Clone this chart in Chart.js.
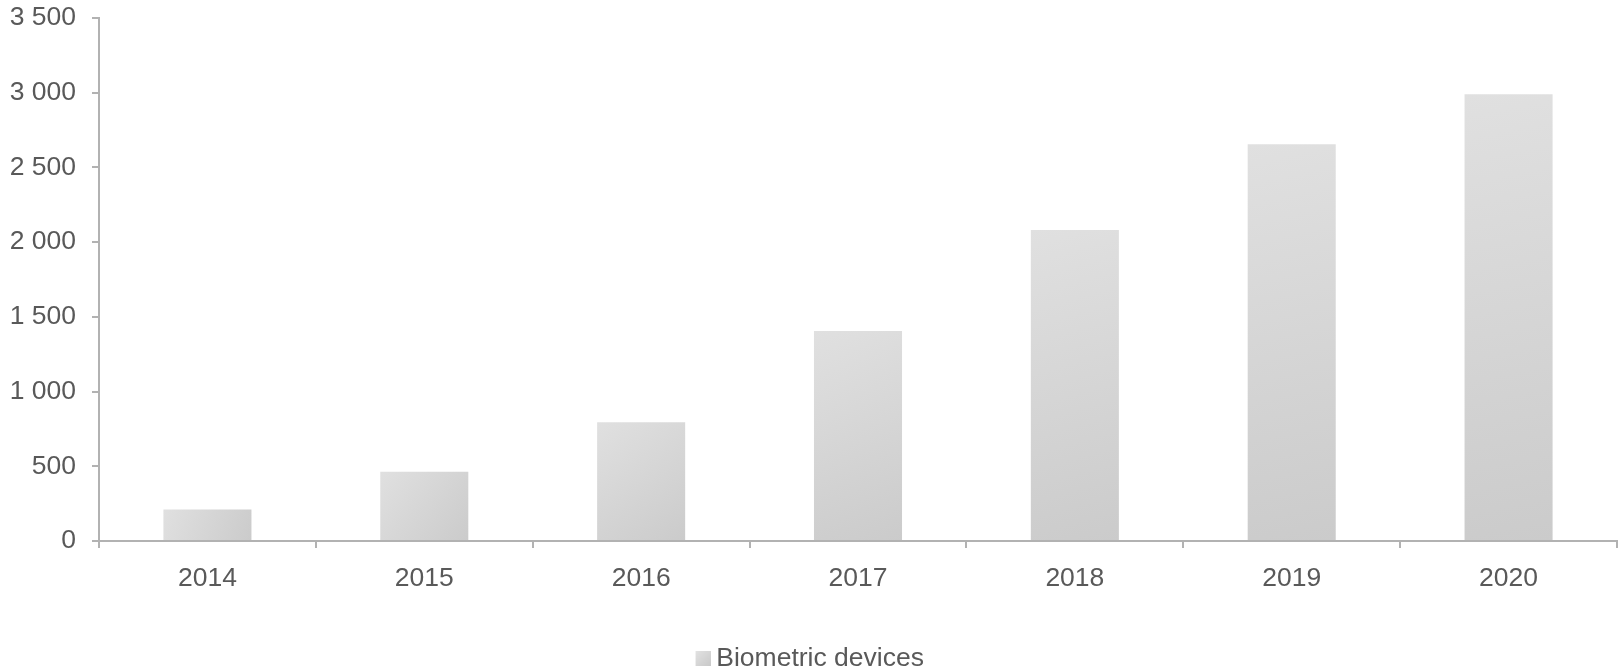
<!DOCTYPE html>
<html>
<head>
<meta charset="utf-8">
<script src="https://cdn.jsdelivr.net/npm/chart.js@4/dist/chart.umd.min.js"></script>
<style>
  html, body { margin: 0; padding: 0; background: #ffffff; }
  #wrap { width: 1619px; height: 669px; position: relative; }
</style>
</head>
<body>
<div id="wrap"><canvas id="c"></canvas></div>
<script>
const categories = ['2014', '2015', '2016', '2017', '2018', '2019', '2020'];
const seriesName = 'Biometric devices';
const biometricValues = [210, 464, 795, 1405, 2080, 2654, 2988];
const yTickLabels = ['0', '500', '1 000', '1 500', '2 000', '2 500', '3 000', '3 500'];

const TEXT = '#595959';
const AXIS = '#B2B2B2';
const FONT = "'Liberation Sans', Arial, sans-serif";
const FONT_SIZE = 26.5;
const BAR_PCT = 0.406;

// legend swatch (transparent left margin so the text gap matches)
const swatch = document.createElement('canvas');
swatch.width = 25; swatch.height = 15;
(function () {
  const g = swatch.getContext('2d');
  const gr = g.createLinearGradient(10, 0, 25, 15);
  gr.addColorStop(0, '#E2E2E2');
  gr.addColorStop(1, '#C9C9C9');
  g.fillStyle = gr;
  g.fillRect(10, 0, 15, 15);
})();

function barGradient(ctx) {
  const chart = ctx.chart;
  const i = ctx.dataIndex;
  if (!chart.chartArea || i === undefined || !chart.scales.x) return '#D6D6D6';
  const xs = chart.scales.x, ys = chart.scales.y;
  const cx = xs.getPixelForValue(i);
  const w = (xs.width / categories.length) * BAR_PCT;
  const top = ys.getPixelForValue(ctx.raw);
  const base = ys.getPixelForValue(0);
  const g = chart.ctx.createLinearGradient(cx - w / 2, top, cx + w / 2, base);
  g.addColorStop(0, '#E0E0E0');
  g.addColorStop(1, '#CBCBCB');
  return g;
}

new Chart(document.getElementById('c'), {
  type: 'bar',
  data: {
    labels: categories,
    datasets: [{
      label: seriesName,
      data: biometricValues,
      backgroundColor: barGradient,
      borderWidth: 0,
      categoryPercentage: 1,
      barPercentage: BAR_PCT
    }]
  },
  options: {
    responsive: true,
    maintainAspectRatio: false,
    animation: false,
    devicePixelRatio: 1,
    layout: { padding: { top: 0, right: 2, bottom: -13, left: 0 } },
    plugins: {
      tooltip: { enabled: false },
      legend: {
        display: true,
        position: 'bottom',
        labels: {
          usePointStyle: true,
          pointStyle: swatch,
          boxWidth: 10,
          boxHeight: 15,
          padding: 0,
          color: TEXT,
          font: { family: FONT, size: FONT_SIZE }
        }
      }
    },
    scales: {
      x: {
        type: 'category',
        offset: true,
        afterFit: (s) => { s.height = 104.5; },
        grid: {
          offset: true,
          drawOnChartArea: false,
          drawTicks: true,
          tickLength: 7,
          color: AXIS,
          lineWidth: 2
        },
        border: { display: true, color: AXIS, width: 2 },
        ticks: {
          color: TEXT,
          padding: 15,
          maxRotation: 0,
          font: { family: FONT, size: FONT_SIZE }
        }
      },
      y: {
        min: 0,
        max: 3500,
        afterFit: (s) => { s.width = 99; s.paddingTop = 17.8; s.paddingBottom = 0; },
        grid: {
          drawOnChartArea: false,
          drawTicks: true,
          tickLength: 7,
          color: AXIS,
          lineWidth: 2
        },
        border: { display: true, color: AXIS, width: 2 },
        ticks: {
          stepSize: 500,
          color: TEXT,
          padding: 16,
          font: { family: FONT, size: FONT_SIZE },
          callback: (v, idx) => yTickLabels[idx]
        }
      }
    }
  }
});
</script>
</body>
</html>
